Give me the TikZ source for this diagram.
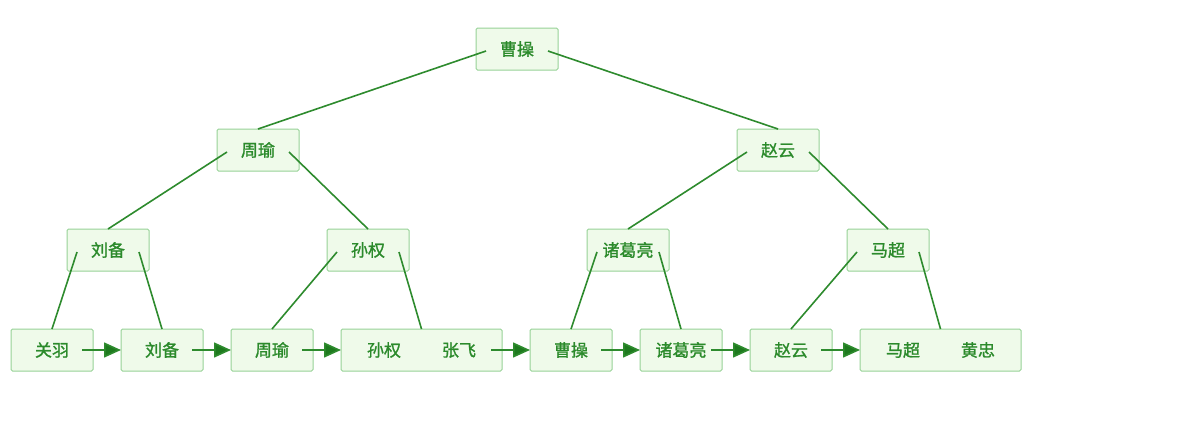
\documentclass[tikz,border=0pt]{standalone}
\usepackage{fontspec}
\newfontfamily\cjk[FakeBold=1.2]{Noto Sans CJK SC}
\usetikzlibrary{positioning,arrows.meta}

\definecolor{boxline}{HTML}{96D296}
\definecolor{boxfill}{HTML}{EFFAEA}
\definecolor{boxtext}{HTML}{2B8A2B}
\definecolor{edgegreen}{HTML}{2E8B2E}
\definecolor{tipgreen}{HTML}{1E7A1E}

\tikzset{
  keybox/.style={draw=boxline, fill=boxfill, rectangle, rounded corners=1.5pt, line width=1pt,
    minimum width=82pt, minimum height=42pt, inner sep=0pt, outer sep=0pt, text=boxtext,
    font=\cjk\fontsize{17}{17}\selectfont},
  widebox/.style={keybox, minimum width=161pt},
  treeline/.style={draw=edgegreen, line width=1.6pt},
  leafarrow/.style={draw=edgegreen, line width=1.6pt, -{Triangle[length=17pt,width=15pt,fill=tipgreen]}}
}

\begin{document}
\begin{tikzpicture}[x=1pt, y=-1pt]
  \useasboundingbox (0,0) rectangle (1200,442);

  % inner nodes
  \node[keybox] (caocao) at (517,49) {曹操};
  \node[keybox] (zhouyu) at (258,150) {周瑜};
  \node[keybox] (zhaoyun) at (778,150) {赵云};
  \node[keybox] (liubei) at (108,250) {刘备};
  \node[keybox] (sunquan) at (368,250) {孙权};
  \node[keybox] (zhuge) at (628,250) {诸葛亮};
  \node[keybox] (machao) at (888,250) {马超};

  % leaves
  \node[keybox] (guanyu) at (52,350) {关羽};
  \node[keybox, right=28pt of guanyu] (liubei2) {刘备};
  \node[keybox, right=28pt of liubei2] (zhouyu2) {周瑜};
  \node[widebox, right=28pt of zhouyu2] (sunzhang) {孙权\hspace{41pt}张飞};
  \node[keybox, right=28pt of sunzhang] (caocao2) {曹操};
  \node[keybox, right=28pt of caocao2] (zhuge2) {诸葛亮};
  \node[keybox, right=28pt of zhuge2] (zhaoyun2) {赵云};
  \node[widebox, right=28pt of zhaoyun2] (mahuang) {马超\hspace{41pt}黄忠};

  % tree lines
  \foreach \p/\l/\r in {caocao/zhouyu/zhaoyun, zhouyu/liubei/sunquan, zhaoyun/zhuge/machao,
      liubei/guanyu/liubei2, sunquan/zhouyu2/sunzhang, zhuge/caocao2/zhuge2, machao/zhaoyun2/mahuang} {
    \draw[treeline] ([xshift=10pt, yshift=-2pt]\p.west) -- (\l.north);
    \draw[treeline] ([xshift=-10pt, yshift=-2pt]\p.east) -- (\r.north);
  }

  % leaf chain
  \foreach \a/\b in {guanyu/liubei2, liubei2/zhouyu2, zhouyu2/sunzhang, sunzhang/caocao2,
      caocao2/zhuge2, zhuge2/zhaoyun2, zhaoyun2/mahuang} {
    \draw[leafarrow] ([xshift=-11pt]\a.east) -- (\b.west);
  }
\end{tikzpicture}
\end{document}
